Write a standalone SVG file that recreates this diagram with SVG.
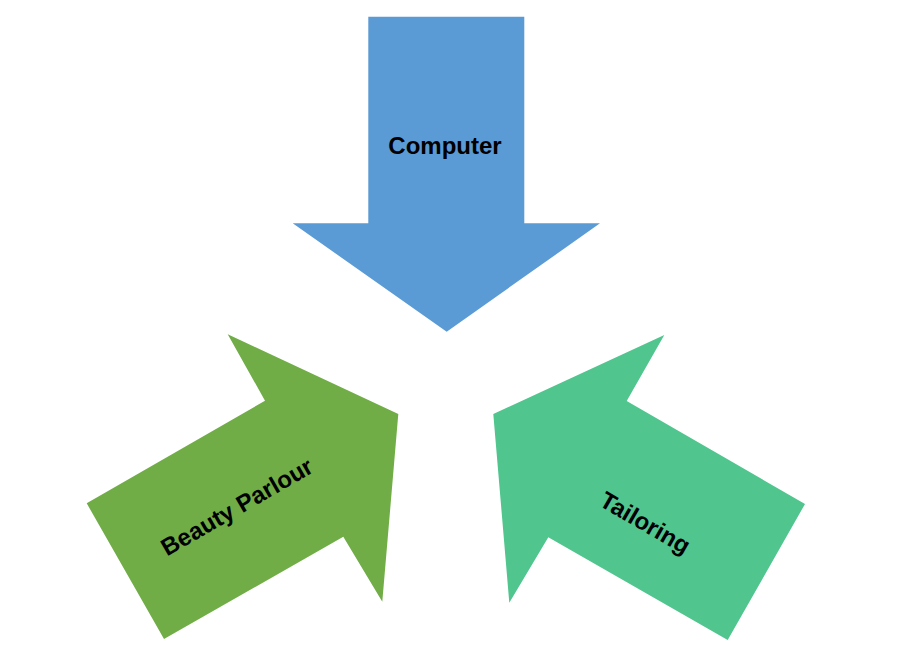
<svg xmlns="http://www.w3.org/2000/svg" width="908" height="659" viewBox="0 0 908 659">
<style>
.lbl{font-family:"Liberation Sans",Arial,sans-serif;font-weight:bold;font-size:24px;fill:#000;text-anchor:middle}
</style>
<rect width="908" height="659" fill="#fff"/>
<g id="computer">
<polygon points="368.3,16.7 524.3,16.7 524.3,223.3 600,223.3 446.7,331.7 292.7,223.3 368.3,223.3" fill="#5B9BD5"/>
<text class="lbl" x="445" y="154">Computer</text>
</g>
<g id="beauty-parlour">
<polygon points="86.7,503.3 265,400.7 227.7,334.3 398.3,414 382.3,601.7 343.3,536.7 164,639" fill="#70AD47"/>
<text class="lbl" x="237" y="515" transform="rotate(-30 237 507)">Beauty Parlour</text>
</g>
<g id="tailoring">
<polygon points="805,504 626.7,401 664.3,335 493.3,414 509.3,602.7 548.3,537.3 727.7,640" fill="#50C58E"/>
<text class="lbl" x="645" y="531" transform="rotate(30 645 523)">Tailoring</text>
</g>
<g id="connectors"/>
</svg>
